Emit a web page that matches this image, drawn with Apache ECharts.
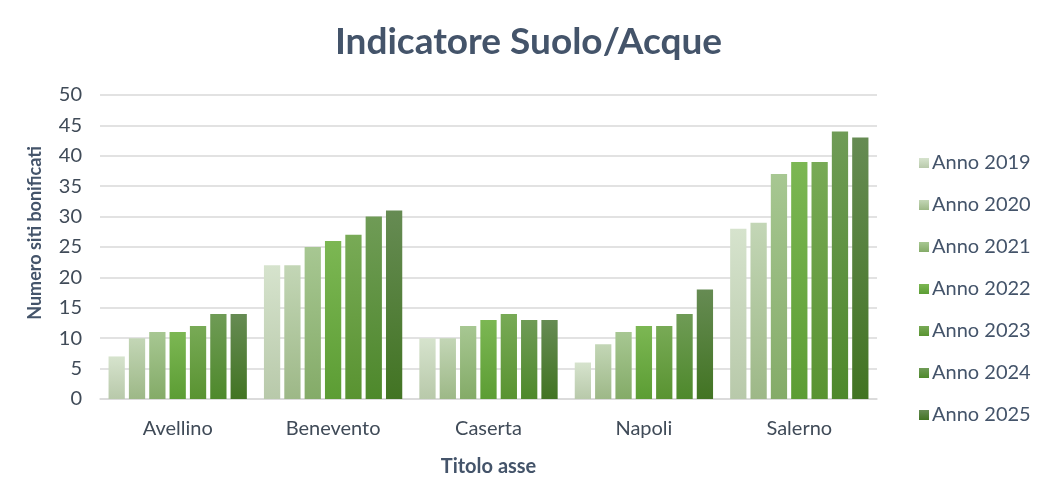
<!DOCTYPE html>
<html>
<head>
<meta charset="utf-8">
<script src="https://cdn.jsdelivr.net/npm/echarts@6/dist/echarts.min.js"></script>
<style>
  html, body { margin: 0; padding: 0; background: #fff; }
  #chart { width: 1057px; height: 504px; }
</style>
</head>
<body>
<div id="chart"></div>
<script>
const province = ['Avellino', 'Benevento', 'Caserta', 'Napoli', 'Salerno'];
const anni = ['Anno 2019', 'Anno 2020', 'Anno 2021', 'Anno 2022', 'Anno 2023', 'Anno 2024', 'Anno 2025'];

const anno2019 = [7, 22, 10, 6, 28];
const anno2020 = [10, 22, 10, 9, 29];
const anno2021 = [11, 25, 12, 11, 37];
const anno2022 = [11, 26, 13, 12, 39];
const anno2023 = [12, 27, 14, 12, 39];
const anno2024 = [14, 30, 13, 14, 44];
const anno2025 = [14, 31, 13, 18, 43];
const valori = [anno2019, anno2020, anno2021, anno2022, anno2023, anno2024, anno2025];

// colori sfumati (alto, basso) per ogni anno
const colori = [
  ['#d6e3cd', '#b8c9aa'],
  ['#c3d6b6', '#9db887'],
  ['#a7c792', '#84ab68'],
  ['#7cb753', '#5c9d34'],
  ['#78aa56', '#599331'],
  ['#6f9b56', '#4e892b'],
  ['#668b53', '#427423']
];

const font = 'Lato, "Open Sans", sans-serif';
const testo = '#44546a';

const chart = echarts.init(document.getElementById('chart'));

const series = anni.map((nome, i) => ({
  name: nome,
  type: 'bar',
  data: valori[i],
  barGap: '25%',
  barCategoryGap: '11%',
  itemStyle: {
    color: new echarts.graphic.LinearGradient(0, 0, 0, 1, [
      { offset: 0, color: colori[i][0] },
      { offset: 1, color: colori[i][1] }
    ])
  }
}));

chart.setOption({
  animation: false,
  title: {
    text: 'Indicatore Suolo/Acque',
    left: 'center',
    top: 19,
    textStyle: { fontFamily: font, fontSize: 37, fontWeight: 'bold', color: testo }
  },
  legend: {
    orient: 'vertical',
    left: 914,
    top: 148,
    itemWidth: 10,
    itemHeight: 10,
    itemGap: 22,
    icon: 'rect',
    data: anni,
    textStyle: { fontFamily: font, fontSize: 20, color: testo, padding: [0, 0, 0, -2] }
  },
  grid: { left: 100, right: 180, top: 95, bottom: 105, containLabel: false },
  xAxis: {
    type: 'category',
    data: province,
    name: 'Titolo asse',
    nameLocation: 'middle',
    nameGap: 58,
    nameTextStyle: { fontFamily: font, fontSize: 20, fontWeight: 'bold', color: testo },
    axisLine: { lineStyle: { color: '#d9d9d9', width: 1.5 } },
    axisTick: { show: false },
    axisLabel: { fontFamily: font, fontSize: 20, color: '#404b58', margin: 20 }
  },
  yAxis: {
    type: 'value',
    min: 0,
    max: 50,
    interval: 5,
    name: 'Numero siti bonificati',
    nameLocation: 'middle',
    nameRotate: 90,
    nameGap: 56,
    nameTextStyle: { fontFamily: font, fontSize: 18, fontWeight: 'bold', color: testo, padding: [0, 0, 0, 28] },
    axisLine: { show: false },
    axisTick: { show: false },
    splitLine: { lineStyle: { color: '#d9d9d9', width: 1.5 } },
    axisLabel: { fontFamily: font, fontSize: 20, color: '#404b58', margin: 18 }
  },
  series: series
});
</script>
</body>
</html>
